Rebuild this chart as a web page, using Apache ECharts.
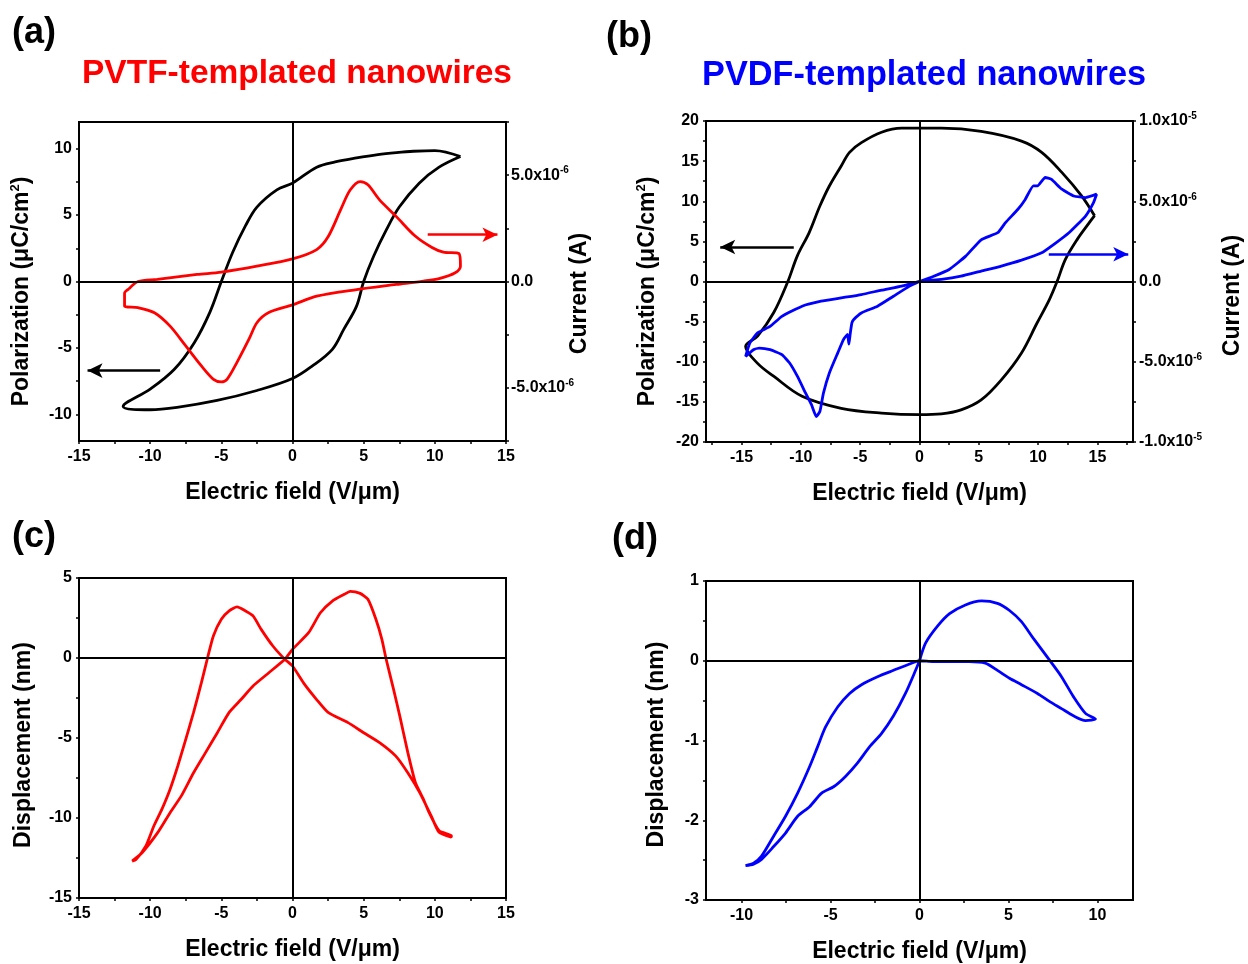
<!DOCTYPE html>
<html>
<head>
<meta charset="utf-8">
<script src="https://cdn.jsdelivr.net/npm/echarts@6/dist/echarts.min.js"></script>
<style>
html, body { margin: 0; padding: 0; background: #fff; }
#main { width: 1248px; height: 964px; }
</style>
</head>
<body>
<div id="main"></div>
<script>
// (a) PVTF: polarization loop [E (V/um), P (uC/cm2)]
const pvtfLoop = [
    [11.8, 9.4], [10.0, 9.85], [8.5, 9.8], [7.3, 9.7], [6.0, 9.55], [4.5, 9.3], [3.0, 9.0], [1.7, 8.6],
    [0, 7.4], [-1.1, 6.9], [-2.5, 5.6], [-3.3, 4.2], [-4.2, 2.2], [-5.0, 0], [-5.8, -2.3], [-6.9, -4.6],
    [-8.3, -6.6], [-10.0, -8.1], [-11.9, -9.4],
    [-10.0, -9.65], [-8.0, -9.45], [-5.3, -8.95], [-2.5, -8.2], [0, -7.3], [1.4, -6.35], [2.8, -5.1],
    [3.6, -3.6], [4.5, -1.85], [5.0, 0], [5.7, 1.9], [6.6, 3.9], [7.5, 5.6], [8.9, 7.4], [10.3, 8.6], [11.8, 9.4]
];
// (a) PVTF: current [E, I in 1e-6 A]
const pvtfCurrent = [
    [-11.5, -0.35], [-10.85, 0], [-9.5, 0.1], [-6.7, 0.33], [-5.0, 0.44], [-2.5, 0.72], [0, 1.06],
    [1.7, 1.5], [2.5, 2.1], [3.4, 3.4], [4.05, 4.3], [4.75, 4.7], [5.3, 4.55], [6.1, 3.85], [7.3, 3.05],
    [8.6, 2.15], [9.8, 1.6], [10.6, 1.38], [11.7, 1.31], [11.8, 0.72], [11.4, 0.4], [10.3, 0.14],
    [9.2, 0.02], [7.3, -0.14], [4.5, -0.38], [1.7, -0.69], [0, -1.1], [-1.7, -1.47], [-2.5, -1.94],
    [-3.05, -2.7], [-3.9, -3.8], [-4.6, -4.6], [-5.0, -4.72], [-5.55, -4.6], [-6.4, -3.97], [-7.5, -3.03],
    [-8.6, -2.1], [-9.7, -1.47], [-10.85, -1.23], [-11.8, -1.16], [-11.8, -0.55], [-11.5, -0.35]
];
// (b) PVDF: polarization loop
const pvdfLoop = [
    [14.76, 8.2], [13.65, 10.7], [12.0, 13.6], [10.3, 16.1], [8.6, 17.5], [5.2, 18.7], [1.85, 19.1],
    [0, 19.1], [-1.5, 19.1], [-3.2, 18.6], [-4.9, 17.3], [-5.9, 16.1], [-6.6, 14.4], [-7.6, 11.9],
    [-8.4, 9.4], [-9.3, 6.1], [-10.3, 3.2], [-11.1, 0], [-12.3, -3.9], [-13.65, -6.8], [-14.66, -8.1],
    [-13.65, -10.2], [-12.3, -11.8], [-9.9, -14.3], [-6.6, -15.8], [-3.2, -16.4], [0, -16.6],
    [1.85, -16.5], [3.5, -16.0], [5.2, -14.75], [6.9, -12.25], [8.6, -8.9], [9.9, -5.2], [10.95, -2.25],
    [11.6, 0], [12.3, 2.75], [13.3, 5.25], [14.3, 7.3], [14.76, 8.2]
];
// (b) PVDF: current [E, I in 1e-6 A]
const pvdfCurrent = [
    [0, 0], [1.2, 0.33], [2.5, 0.75], [3.9, 1.58], [5.2, 2.6], [6.6, 3.04], [7.25, 3.67], [8.3, 4.5],
    [8.9, 5.1], [9.6, 5.96], [9.95, 5.96], [10.6, 6.48], [11.1, 6.38], [12.0, 5.75], [13.0, 5.33],
    [14.0, 5.23], [14.93, 5.44], [14.66, 4.9], [14.0, 4.08], [12.6, 3.04], [11.3, 2.3], [10.3, 1.79],
    [8.6, 1.33], [6.9, 0.96], [5.2, 0.65], [3.5, 0.33], [1.85, 0.13], [0, 0],
    [-1.5, -0.29], [-3.2, -0.54], [-4.9, -0.81], [-6.6, -1.02], [-8.3, -1.23], [-9.9, -1.54],
    [-11.6, -2.17], [-12.6, -2.8], [-13.65, -3.2], [-14.3, -3.83], [-14.66, -4.67],
    [-14.0, -4.25], [-13.5, -4.15], [-12.6, -4.25], [-11.6, -4.56], [-10.95, -5.08], [-10.3, -5.9],
    [-9.6, -6.96], [-9.1, -7.69], [-8.7, -8.42], [-8.4, -8.1], [-8.1, -6.96], [-7.6, -5.7], [-6.9, -4.46],
    [-6.4, -3.6], [-6.07, -3.3], [-5.95, -3.9], [-5.85, -3.3], [-5.7, -2.58], [-5.56, -2.38],
    [-4.9, -1.96], [-3.54, -1.54], [-2.2, -0.92], [-0.84, -0.29], [0, 0]
];
// (c) PVTF: displacement [E, d (nm)]
const pvtfDisp = [
    [-11.27, -12.69], [-10.57, -12.17], [-9.46, -10.9], [-8.6, -9.67], [-7.8, -8.6], [-6.95, -7.17],
    [-6.1, -5.9], [-5.28, -4.67], [-4.45, -3.4], [-3.6, -2.58], [-2.77, -1.75], [-1.66, -0.92],
    [-0.54, -0.08], [0, 0.54], [1.13, 1.58], [1.96, 2.83], [2.8, 3.56], [3.64, 3.98], [4.05, 4.17],
    [4.75, 4.04], [5.3, 3.67], [5.86, 2.42], [6.28, 1.17], [6.56, 0], [7.1, -1.96], [7.54, -3.63],
    [8.1, -5.9], [8.64, -7.8], [9.2, -8.83], [9.6, -9.67], [10.3, -10.8], [11.16, -11.1],
    [11.16, -11.2], [10.3, -10.9], [9.76, -9.9], [8.93, -8.4], [8.1, -7.17], [7.26, -6.13], [6.14, -5.3],
    [5.0, -4.67], [3.9, -4.04], [2.5, -3.4], [1.68, -2.58], [0.85, -1.65], [0, -0.5], [-0.54, -0.08],
    [-1.38, 0.75], [-2.2, 1.79], [-2.77, 2.63], [-3.3, 2.94], [-3.9, 3.19], [-4.45, 2.94], [-5.0, 2.42],
    [-5.56, 1.38], [-5.97, 0], [-6.4, -1.54], [-6.95, -3.4], [-7.5, -5.08], [-8.06, -6.75], [-8.6, -8.2],
    [-9.18, -9.46], [-9.74, -10.5], [-10.3, -11.75], [-11.0, -12.6], [-11.27, -12.69]
];
// (d) PVDF: displacement [E, d (nm)]
const pvdfDisp = [
    [0, 0], [0.34, 0.22], [1.0, 0.43], [1.69, 0.59], [2.58, 0.7], [3.48, 0.75], [4.38, 0.72], [5.06, 0.63],
    [5.73, 0.49], [6.4, 0.28], [7.3, 0.01], [7.98, -0.2], [8.65, -0.45], [9.33, -0.66], [9.89, -0.73],
    [9.33, -0.75], [8.65, -0.69], [7.98, -0.6], [7.3, -0.51], [6.63, -0.41], [5.73, -0.3], [5.06, -0.22],
    [4.38, -0.12], [3.7, -0.03], [2.8, -0.01], [1.69, -0.01], [0.79, -0.01], [0, 0],
    [-0.56, -0.04], [-1.46, -0.12], [-2.36, -0.2], [-3.26, -0.3], [-3.93, -0.41], [-4.6, -0.58],
    [-5.28, -0.83], [-5.73, -1.08], [-6.18, -1.33], [-6.85, -1.66], [-7.53, -1.95], [-8.2, -2.2],
    [-8.88, -2.45], [-9.33, -2.54], [-9.78, -2.57],
    [-9.33, -2.55], [-8.88, -2.49], [-8.2, -2.33], [-7.53, -2.16], [-6.85, -1.95], [-6.18, -1.83],
    [-5.5, -1.66], [-4.83, -1.58], [-4.16, -1.45], [-3.48, -1.28], [-2.81, -1.08], [-2.13, -0.91],
    [-1.46, -0.69], [-0.79, -0.41], [-0.22, -0.12], [0, 0]
];

// tick labels
const fieldTicks = [-15, -10, -5, 0, 5, 10, 15];
const fieldTicksD = [-10, -5, 0, 5, 10];
const polTicksA = [-10, -5, 0, 5, 10];
const polTicksB = [-20, -15, -10, -5, 0, 5, 10, 15, 20];
const curTicksA = [-5, 0, 5];          // 1e-6 A
const curTicksB = [-10, -5, 0, 5, 10]; // 1e-6 A
const dispTicksC = [-15, -10, -5, 0, 5];
const dispTicksD = [-3, -2, -1, 0, 1];

// arrows [from, to], in the panel's data units
const arrowPolA = [[-9.3, -6.7], [-14.4, -6.7]];
const arrowCurA = [[9.5, 2.2], [14.4, 2.2]];
const arrowPolB = [[-10.6, 4.3], [-16.8, 4.3]];
const arrowCurB = [[10.9, 1.7], [17.6, 1.7]];

const FONT = 'Arial, "Liberation Sans", sans-serif';
const BLACK = '#000000', RED = '#ff0000', BLUE = '#0000ff';

// major ticks plus one minor tick between them
function tickSet(major, min, max) {
    const step = major[1] - major[0];
    const out = [];
    for (let v = major[0] - step; v <= major[major.length - 1] + step + 1e-9; v += step / 2) {
        if (v >= min - 1e-9 && v <= max + 1e-9) out.push(+v.toFixed(4));
    }
    return out;
}

// 5 -> 5.0x10^-6 (values are in 1e-6 A)
function sciLabel(v) {
    if (Math.abs(v) < 1e-9) return '{m|0.0}';
    const amps = v * 1e-6;
    const exp = Math.floor(Math.log10(Math.abs(amps)) + 1e-9);
    const mant = (amps / Math.pow(10, exp)).toFixed(1);
    return '{m|' + mant + 'x10}{e|' + exp + '}';
}

const nameRich = {
    n: { fontFamily: FONT, fontWeight: 'bold', fontSize: 23, color: BLACK, lineHeight: 26 },
    s: { fontFamily: FONT, fontWeight: 'bold', fontSize: 13, color: BLACK, lineHeight: 14, verticalAlign: 'top' }
};
const labelRich = {
    m: { fontFamily: FONT, fontWeight: 'bold', fontSize: 16, color: BLACK, lineHeight: 19 },
    e: { fontFamily: FONT, fontWeight: 'bold', fontSize: 10, color: BLACK, lineHeight: 10, verticalAlign: 'top' }
};

function axis(o) {
    return {
        type: 'value', gridIndex: o.grid, position: o.pos, min: o.min, max: o.max,
        name: o.name, nameLocation: 'middle', nameGap: o.gap, nameRotate: o.rotate,
        nameMoveOverlap: false,
        nameTextStyle: { fontFamily: FONT, fontWeight: 'bold', fontSize: 23, color: BLACK, rich: nameRich,
            padding: o.shift ? [0, o.shift, 0, 0] : 0 },
        axisLine: { show: true, onZero: false, lineStyle: { color: BLACK, width: 2 } },
        axisTick: { show: true, inside: false, length: 3, lineStyle: { color: BLACK, width: 1.5 },
            customValues: tickSet(o.labels, o.min, o.max) },
        axisLabel: { show: true, margin: o.margin, customValues: o.labels, formatter: o.fmt,
            fontFamily: FONT, fontWeight: 'bold', fontSize: 16, color: BLACK, rich: labelRich },
        splitLine: { show: false }
    };
}

const fieldName = 'Electric field (V/μm)';
const polName = '{n|Polarization (μC/cm}{s|2}{n|)}';

const grids = [
    { left: 79, top: 122, width: 427, height: 319 },
    { left: 706, top: 121, width: 427, height: 321 },
    { left: 79, top: 578, width: 427, height: 320 },
    { left: 706, top: 581, width: 427, height: 320 }
].map(g => Object.assign(g, { show: true, borderColor: BLACK, borderWidth: 2, backgroundColor: 'transparent' }));

const xAxes = [
    axis({ grid: 0, pos: 'bottom', min: -15, max: 15, labels: fieldTicks, name: fieldName, gap: 40, margin: 8 }),
    axis({ grid: 1, pos: 'bottom', min: -18, max: 18, labels: fieldTicks, name: fieldName, gap: 40, margin: 8 }),
    axis({ grid: 2, pos: 'bottom', min: -15, max: 15, labels: fieldTicks, name: fieldName, gap: 40, margin: 8 }),
    axis({ grid: 3, pos: 'bottom', min: -12, max: 12, labels: fieldTicksD, name: fieldName, gap: 40, margin: 8 })
];
const yAxes = [
    axis({ grid: 0, pos: 'left', min: -12, max: 12, labels: polTicksA, name: polName, gap: 44, rotate: 90, margin: 7, shift: 20 }),
    axis({ grid: 0, pos: 'right', min: -7.5, max: 7.5, labels: curTicksA, name: 'Current (A)', gap: 62, rotate: 90, margin: 5, fmt: sciLabel, shift: 24 }),
    axis({ grid: 1, pos: 'left', min: -20, max: 20, labels: polTicksB, name: polName, gap: 45, rotate: 90, margin: 7, shift: 20 }),
    axis({ grid: 1, pos: 'right', min: -10, max: 10, labels: curTicksB, name: 'Current (A)', gap: 88, rotate: 90, margin: 6, fmt: sciLabel, shift: 28 }),
    axis({ grid: 2, pos: 'left', min: -15, max: 5, labels: dispTicksC, name: 'Displacement (nm)', gap: 44, rotate: 90, margin: 7, shift: 14 }),
    axis({ grid: 3, pos: 'left', min: -3, max: 1, labels: dispTicksD, name: 'Displacement (nm)', gap: 38, rotate: 90, margin: 7, shift: 8 })
];

function zeroLines() {
    return {
        silent: true, symbol: ['none', 'none'], label: { show: false },
        lineStyle: { color: BLACK, width: 2, type: 'solid' },
        data: [{ xAxis: 0 }, { yAxis: 0 }]
    };
}
function arrows(list) {
    return {
        silent: true, symbol: ['none', 'arrow'], symbolSize: [11, 15], label: { show: false },
        data: list.map(a => [
            { coord: a.pts[0], lineStyle: { color: a.color, width: 2.5, type: 'solid' } },
            { coord: a.pts[1] }
        ])
    };
}

function curve(name, data, x, y, color, smooth, extra) {
    return Object.assign({
        name: name, type: 'line', xAxisIndex: x, yAxisIndex: y, data: data,
        showSymbol: false, symbol: 'none', smooth: smooth, color: color,
        lineStyle: { color: color, width: 2.8 }, z: 3
    }, extra || {});
}

const series = [
    curve('P-E PVTF', pvtfLoop, 0, 0, BLACK, 0.35, { markLine: zeroLines() }),
    curve('I-E PVTF', pvtfCurrent, 0, 1, RED, 0.3, {
        markLine: arrows([{ pts: arrowCurA, color: RED }])
    }),
    curve('P-E PVDF', pvdfLoop, 1, 2, BLACK, 0.35, { markLine: zeroLines() }),
    curve('I-E PVDF', pvdfCurrent, 1, 3, BLUE, 0.15, {
        markLine: arrows([{ pts: arrowCurB, color: BLUE }])
    }),
    curve('d-E PVTF', pvtfDisp, 2, 4, RED, 0.2, { markLine: zeroLines() }),
    curve('d-E PVDF', pvdfDisp, 3, 5, BLUE, 0.25, { markLine: zeroLines() }),
    // black arrows drawn in the polarization axes
    curve('arrow a', [], 0, 0, BLACK, false, { markLine: arrows([{ pts: arrowPolA, color: BLACK }]) }),
    curve('arrow b', [], 1, 2, BLACK, false, { markLine: arrows([{ pts: arrowPolB, color: BLACK }]) })
];

const tStyle = (size, color) => ({ fontFamily: FONT, fontWeight: 'bold', fontSize: size, color: color });
const titles = [
    { text: '(a)', left: 12, top: 15, padding: 0, textStyle: tStyle(36, BLACK) },
    { text: 'PVTF-templated nanowires', left: 82, top: 57, padding: 0, textStyle: tStyle(33.5, RED) },
    { text: '(b)', left: 606, top: 19, padding: 0, textStyle: tStyle(36, BLACK) },
    { text: 'PVDF-templated nanowires', left: 702, top: 59, padding: 0, textStyle: tStyle(34.3, BLUE) },
    { text: '(c)', left: 12, top: 519, padding: 0, textStyle: tStyle(36, BLACK) },
    { text: '(d)', left: 612, top: 521, padding: 0, textStyle: tStyle(36, BLACK) }
];

const chart = echarts.init(document.getElementById('main'), null, { renderer: 'canvas' });
chart.setOption({
    backgroundColor: '#ffffff',
    animation: false,
    title: titles,
    grid: grids,
    xAxis: xAxes,
    yAxis: yAxes,
    series: series
});
</script>
</body>
</html>
